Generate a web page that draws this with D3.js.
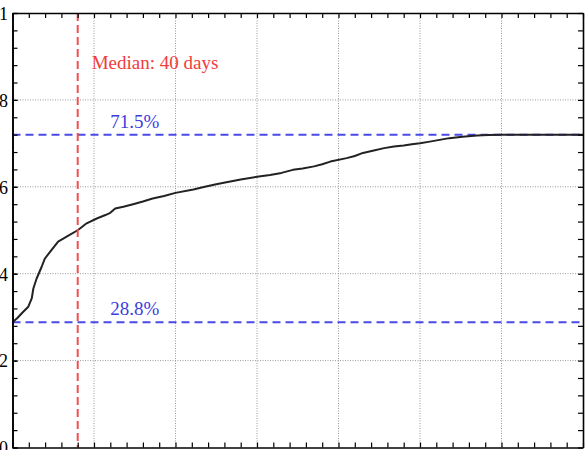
<!DOCTYPE html>
<html lang="en">
<head>
<meta charset="UTF-8">
<title>Cumulative curve with median</title>
<script src="https://d3js.org/d3.v7.min.js"></script>
<style>
    body { margin: 0; padding: 0; background: #fff; }
    svg { display: block; font-family: "Liberation Serif", "DejaVu Serif", serif; }
    .axis path, .axis line { stroke: #000; }
    .axis path { stroke-width: 1.6; }
    .axis line { stroke-width: 1.2; }
    .axis text { font-size: 18px; fill: #000; font-family: "Liberation Serif", serif; }
    .grid line { stroke: #999; stroke-width: 1; stroke-dasharray: 1,1.5; }
</style>
</head>
<body>
<svg id="chart" width="588" height="450"></svg>
<script>
    // curve: days -> fraction
    const days = [0, 3, 6, 9.7, 11.8, 12.8, 14.8, 17.9, 19.9, 24, 28, 34, 40, 45.5, 51.7, 57, 60, 63, 68, 74,
        80, 86, 93, 100, 111, 118, 125, 132, 140, 150, 158, 165, 172, 178, 185, 190, 195, 205, 210, 215,
        221, 228, 234, 240, 245, 250, 256, 262, 268, 276, 285, 292, 300, 350];
    const values = [.288, .298, .310, .324, .343, .366, .389, .416, .435, .455, .474, .487, .500, .516, .527, .535, .540, .550, .554, .560,
        .566, .573, .579, .586, .594, .600, .606, .611, .617, .623, .627, .632, .639, .642, .647, .652, .658, .666, .671, .678,
        .683, .689, .693, .695, .698, .700, .704, .708, .712, .715, .718, .719, .720, .720];

    const yTickValues = [0, 0.2, 0.4, 0.6, 0.8, 1];
    const xMajorTicks = [50, 100, 150, 200, 250, 300];

    const medianDay = 40;
    const medianLabel = "Median: 40 days";
    const hLines = [
        { value: 0.72, label: "71.5%" },
        { value: 0.288, label: "28.8%" }
    ];

    const margin = { top: 13, right: 5, bottom: 2.5, left: 12.5 };
    const svg = d3.select("#chart");
    const width = 588 - margin.left - margin.right;
    const height = 450 - margin.top - margin.bottom;

    const chart = svg.append("g")
        .attr("transform", `translate(${margin.left},${margin.top})`);

    const x = d3.scaleLinear().domain([0, 350]).range([0, width]);
    const y = d3.scaleLinear().domain([0, 1]).range([height, 0]);

    // dotted grid
    const grid = chart.append("g").attr("class", "grid");
    grid.selectAll(".gx").data(xMajorTicks).join("line")
        .attr("x1", d => x(d)).attr("x2", d => x(d))
        .attr("y1", 0).attr("y2", height);
    grid.selectAll(".gy").data([0.2, 0.4, 0.6, 0.8]).join("line")
        .attr("x1", 0).attr("x2", width)
        .attr("y1", d => y(d)).attr("y2", d => y(d));

    // reference lines
    chart.selectAll(".hline").data(hLines).join("line")
        .attr("class", "hline")
        .attr("x1", 0).attr("x2", width)
        .attr("y1", d => y(d.value)).attr("y2", d => y(d.value))
        .attr("stroke", "#4a4ae6")
        .attr("stroke-width", 2)
        .attr("stroke-dasharray", "8,5");

    chart.selectAll(".hlabel").data(hLines).join("text")
        .attr("class", "hlabel")
        .attr("x", x(60))
        .attr("y", d => y(d.value) - 7)
        .attr("fill", "#3d3de0")
        .style("font-size", "19px")
        .text(d => d.label);

    // the curve
    const pts = days.map((d, i) => [d, values[i]]);
    chart.append("path")
        .datum(pts)
        .attr("fill", "none")
        .attr("stroke", "#222")
        .attr("stroke-width", 2)
        .attr("stroke-linejoin", "round")
        .attr("d", d3.line().x(d => x(d[0])).y(d => y(d[1])));

    // median line
    chart.append("line")
        .attr("x1", x(medianDay)).attr("x2", x(medianDay))
        .attr("y1", 0).attr("y2", height)
        .attr("stroke", "#f05050")
        .attr("stroke-width", 2)
        .attr("stroke-dasharray", "8,4");

    chart.append("text")
        .attr("x", x(medianDay) + 14)
        .attr("y", 55.5)
        .attr("fill", "#f03c3c")
        .style("font-size", "19px")
        .text(medianLabel);

    // axes, ticks inside on all four sides
    const yMinor = d3.range(0, 1.0001, 0.04);
    const xMinor = d3.range(0, 350.01, 10);

    chart.append("g").attr("class", "axis")
        .call(d3.axisLeft(y).tickValues(yMinor).tickSize(-5).tickSizeOuter(0).tickFormat(""));
    chart.append("g").attr("class", "axis")
        .call(d3.axisLeft(y).tickValues(yTickValues).tickSize(-5).tickSizeOuter(0).tickPadding(4.5)
            .tickFormat(d3.format("~g")))
        .selectAll("text").attr("dy", "0.35em");

    chart.append("g").attr("class", "axis")
        .attr("transform", `translate(${width},0)`)
        .call(d3.axisRight(y).tickValues(yMinor).tickSize(-5).tickSizeOuter(0).tickFormat(""));

    chart.append("g").attr("class", "axis")
        .call(d3.axisTop(x).tickValues(xMinor).tickSize(-5).tickSizeOuter(0).tickFormat(""));

    chart.append("g").attr("class", "axis")
        .attr("transform", `translate(0,${height})`)
        .call(d3.axisBottom(x).tickValues(xMinor).tickSize(-5).tickSizeOuter(0).tickFormat(""));
</script>
</body>
</html>
